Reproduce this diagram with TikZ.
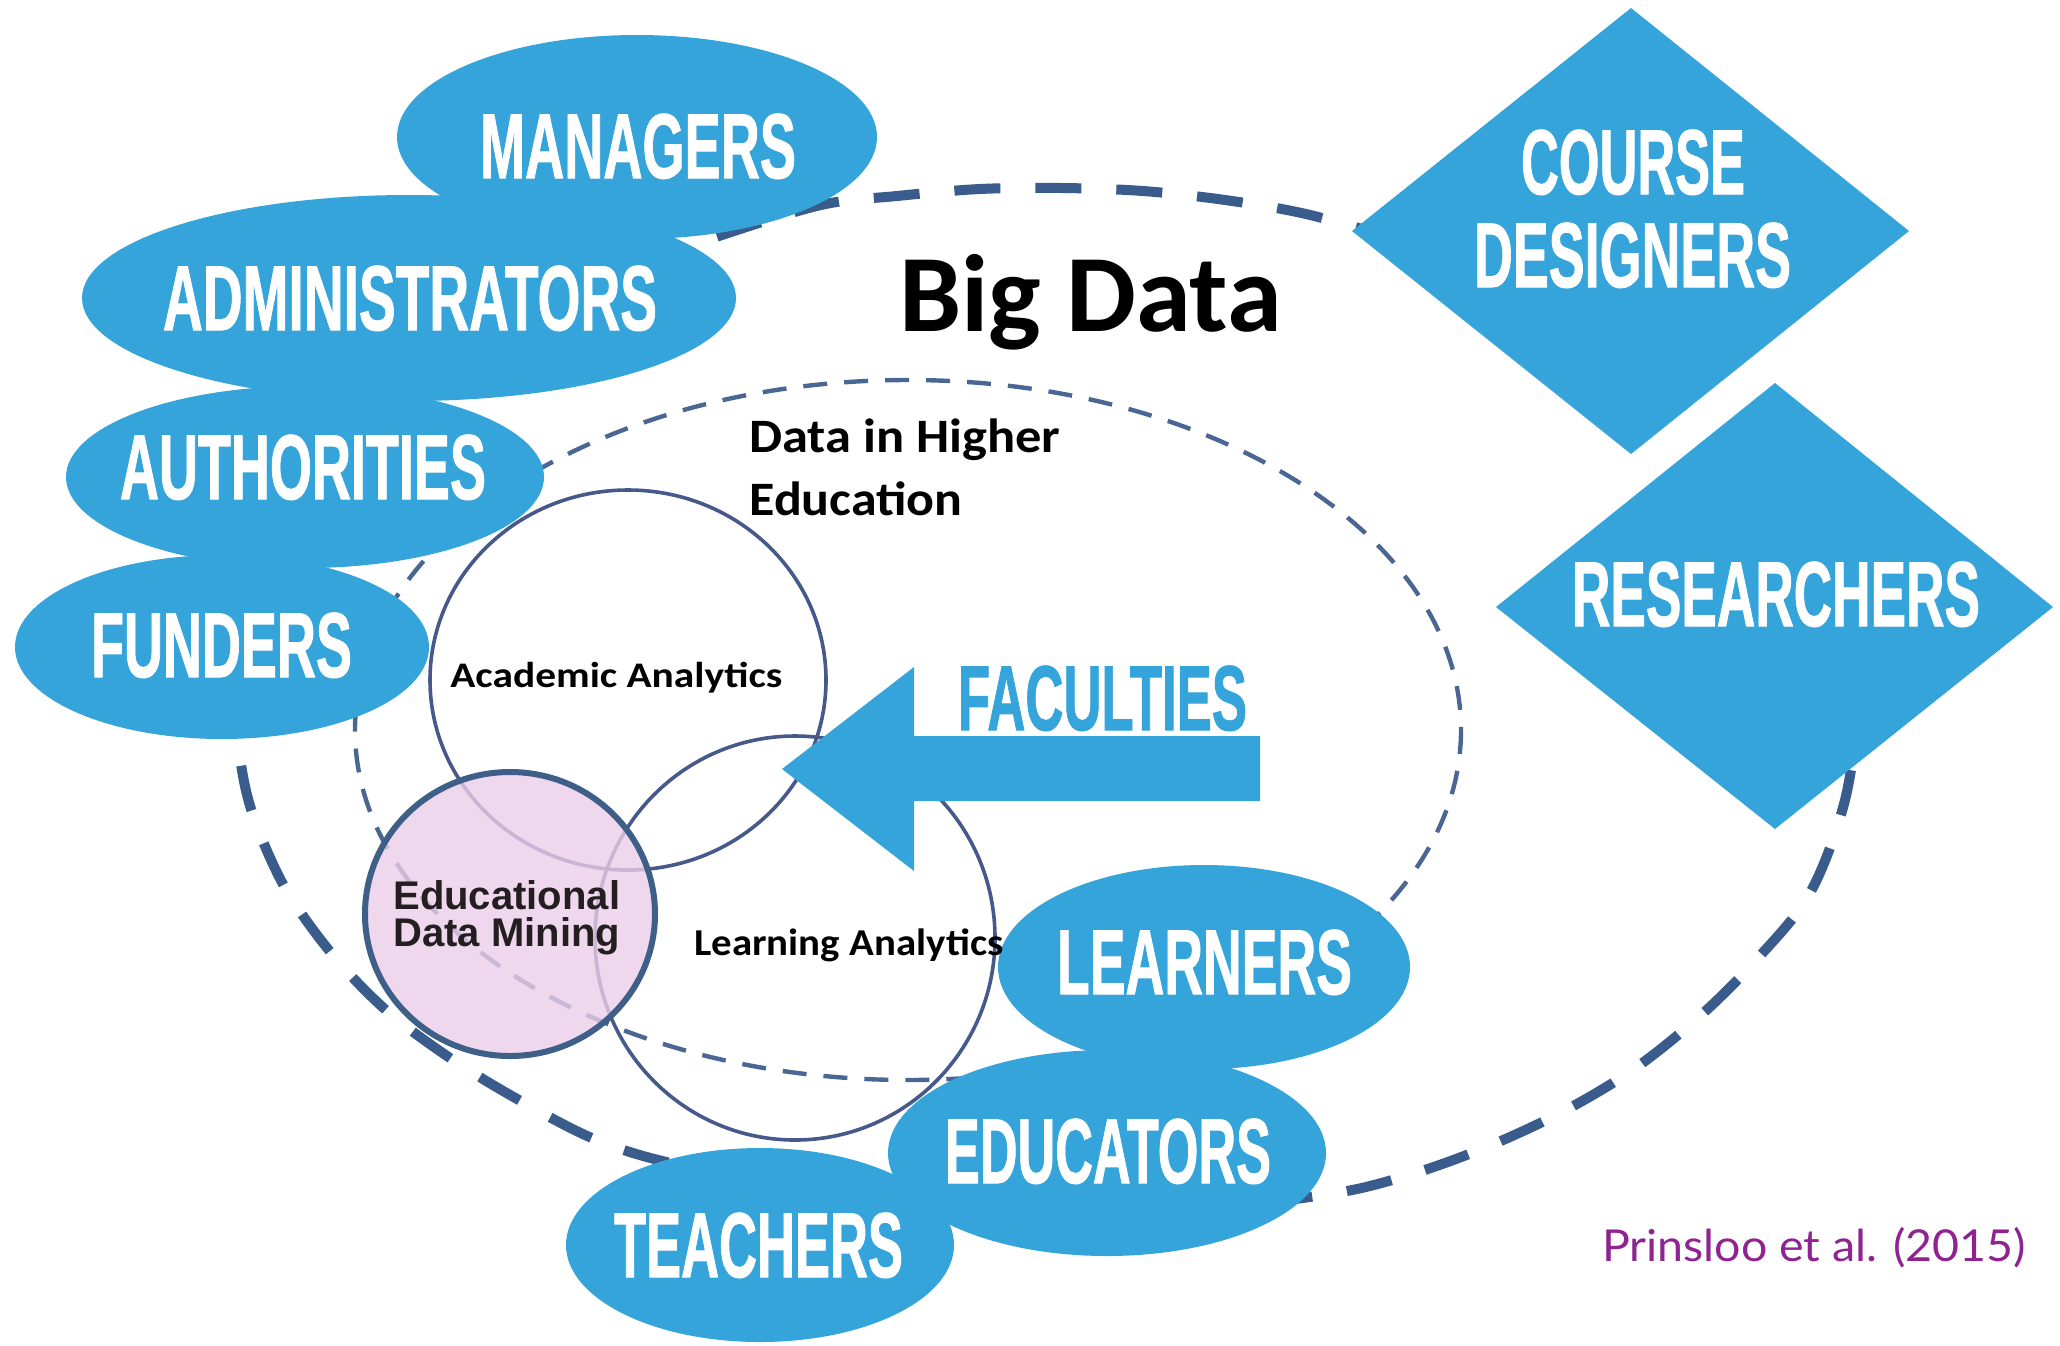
\documentclass[tikz,border=0pt]{standalone}
\usepackage{fontspec}
\usepackage{graphicx}
\usetikzlibrary{shapes.geometric}
\newfontfamily\calf{Carlito}
\newfontfamily\arf{Liberation Sans}
\newfontfamily\labf{Liberation Sans}[BoldFeatures={FakeBold=1.3}]
\newfontfamily\latf{Lato}
\newcommand\fitx[2]{\resizebox{#1}{\height}{#2}}
\definecolor{lblue}{HTML}{35A4DA}
\definecolor{outerc}{HTML}{3A5C8C}
\definecolor{innerc}{HTML}{4A6793}
\definecolor{circc}{HTML}{46598A}
\definecolor{edmb}{HTML}{3E5F88}
\definecolor{pinkc}{HTML}{EBCDE9}
\definecolor{txtc}{HTML}{231F20}
\definecolor{purp}{HTML}{8E2391}
\begin{document}
\begin{tikzpicture}[x=0.5pt,y=-0.5pt,
  blob/.style={ellipse,fill=lblue,draw=none,inner sep=0pt},
  lab/.style={text=white,inner sep=0pt,anchor=base,font=\labf\bfseries\fontsize{46pt}{50pt}\selectfont},
  outerdash/.style={draw=outerc,line width=5pt,dash pattern=on 23pt off 17.5pt},
  innerdash/.style={draw=innerc,line width=2.2pt,dash pattern=on 12pt off 8.5pt},
  ring/.style={draw=circc,line width=1.8pt},
  smalltxt/.style={inner sep=0pt,anchor=base west,text=black},
]
\useasboundingbox (0,0) rectangle (2060,1345);
\fill[white] (0,0) rectangle (2060,1345);

% outer "Big Data" dashed boundary (visible parts)
\draw[outerdash] plot[smooth,tension=0.55] coordinates {(1862,690) (1845,800) (1810,893) (1757,959) (1700,1016) (1634,1069) (1564,1111) (1489,1146) (1412,1174) (1330,1194) (1180,1210) (1000,1208) (820,1188) (680,1165) (599,1141) (526,1104) (453,1060) (387,1011) (332,954) (284,886) (251,809) (238,743) (236,690)};
\draw[outerdash] plot[smooth,tension=0.55] coordinates {(1400,240) (1306,214) (1225,200) (1143,191) (1062,188) (980,189) (897,196) (821,205) (716,237) (640,265)};

% inner dashed ellipse
\draw[innerdash] (908,730) ellipse [x radius=553, y radius=350];

% analytics circles
\draw[ring] (628,680) ellipse [x radius=198, y radius=190];
\draw[ring] (795,938) ellipse [x radius=200, y radius=202];

% Educational Data Mining
\fill[pinkc,fill opacity=0.8] (510,914) ellipse [x radius=145, y radius=142];
\draw[edmb,line width=3pt] (510,914) ellipse [x radius=145, y radius=142];
\node[smalltxt,text=txtc,font=\arf\bfseries\fontsize{20pt}{22pt}\selectfont] (edm1) at (393,909) {Educational};
\node[smalltxt,text=txtc,font=\arf\bfseries\fontsize{20pt}{22pt}\selectfont] (edm2) at (393,946) {Data Mining};

% titles
\node[inner sep=0pt,anchor=base,font=\calf\bfseries\fontsize{55pt}{60pt}\selectfont] (bigdata) at (1090.5,331) {\fitx{191.5pt}{Big Data}};
\node[smalltxt,font=\calf\bfseries\fontsize{24pt}{28pt}\selectfont] (dhe1) at (749,452) {\fitx{155.5pt}{Data in Higher}};
\node[smalltxt,font=\calf\bfseries\fontsize{24pt}{28pt}\selectfont] (dhe2) at (749,515) {\fitx{106.5pt}{Education}};
\node[smalltxt,font=\calf\bfseries\fontsize{18pt}{22pt}\selectfont] (aa) at (450,687) {\fitx{166pt}{Academic Analytics}};

% blue ellipses (sizes in pt = diameter in px / 2)
\node[blob,minimum width=240pt,minimum height=102pt] (managers) at (637,137) {};
\node[blob,minimum width=327pt,minimum height=103pt] (admin) at (409,298) {};
\node[blob,minimum width=239pt,minimum height=91pt] (auth) at (305,477) {};
\node[blob,minimum width=207pt,minimum height=92pt] (funders) at (222,647) {};
\node[blob,minimum width=206pt,minimum height=102pt] (learners) at (1204,967) {};
\node[blob,minimum width=219pt,minimum height=103pt] (educators) at (1107,1153) {};
\node[blob,minimum width=194pt,minimum height=97pt] (teachers) at (760,1245) {};

% diamonds
\fill[lblue] (1631,8) -- (1909,231) -- (1631,454) -- (1352,231) -- cycle;
\fill[lblue] (1775,383) -- (2053,607) -- (1775,829) -- (1496,607) -- cycle;

% arrow
\fill[lblue] (782,769) -- (914,667) -- (914,736) -- (1260,736) -- (1260,801) -- (914,801) -- (914,871) -- cycle;

% labels
\node[lab] (managers-t) at (638,178) {\fitx{158pt}{MANAGERS}};
\node[lab] (admin-t) at (410,330) {\fitx{247pt}{ADMINISTRATORS}};
\node[lab] (auth-t) at (303,499) {\fitx{183pt}{AUTHORITIES}};
\node[lab] (funders-t) at (221.5,677) {\fitx{130.5pt}{FUNDERS}};
\node[lab] (course-t) at (1633,194) {\fitx{112pt}{COURSE}};
\node[lab] (designers-t) at (1632.5,287) {\fitx{158.5pt}{DESIGNERS}};
\node[lab] (researchers-t) at (1776,626) {\fitx{204pt}{RESEARCHERS}};
\node[lab,text=lblue] (faculties-t) at (1102.5,730) {\fitx{144.5pt}{FACULTIES}};
\node[lab] (learners-t) at (1204.5,994) {\fitx{147.5pt}{LEARNERS}};
\node[lab] (educators-t) at (1108,1183) {\fitx{163pt}{EDUCATORS}};
\node[lab] (teachers-t) at (758.5,1277) {\fitx{144.5pt}{TEACHERS}};

\node[smalltxt,font=\calf\bfseries\fontsize{19pt}{22pt}\selectfont] (la) at (694,955) {\fitx{154.5pt}{Learning Analytics}};

\node[inner sep=0pt,anchor=base,text=purp,font=\latf\fontsize{22pt}{26pt}\selectfont] (cite) at (1814,1261) {\fitx{212pt}{Prinsloo et al. (2015)}};
\end{tikzpicture}
\end{document}
